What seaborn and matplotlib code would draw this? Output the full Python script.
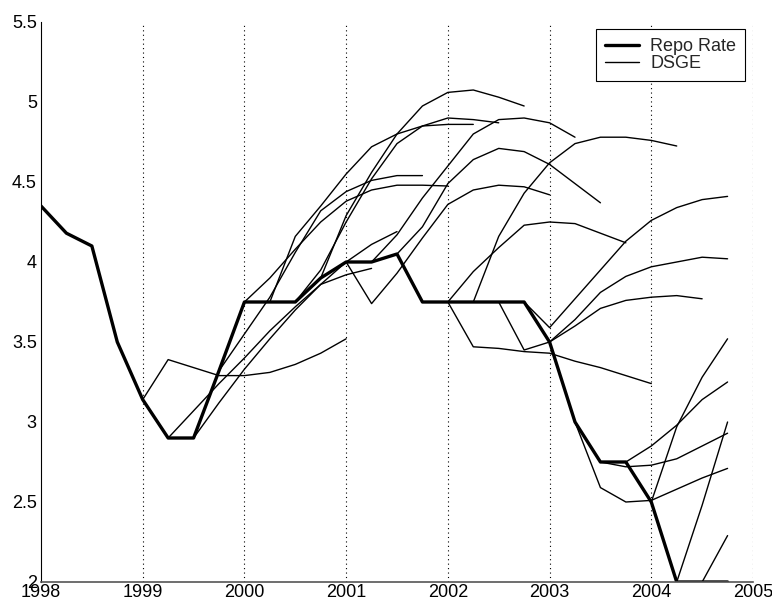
import numpy as np
import pandas as pd
import matplotlib
matplotlib.use("Agg")
import matplotlib.pyplot as plt
from matplotlib.lines import Line2D
import seaborn as sns

sns.set_style("white")
plt.rcParams["font.family"] = ["Liberation Sans", "DejaVu Sans"]

# Quarterly dates, 1998Q1 .. 2004Q4
quarters = np.arange(1998, 2005, 0.25)

# Repo rate (quarterly, percent)
repo_rate = [4.35, 4.18, 4.10, 3.50, 3.14, 2.90, 2.90, 3.32,
             3.75, 3.75, 3.75, 3.90, 4.00, 4.00, 4.05, 3.75,
             3.75, 3.75, 3.75, 3.75, 3.50, 3.00, 2.75, 2.75,
             2.50, 2.00, 2.00, 2.00]

# DSGE forecast paths, each starting at its forecast origin (quarterly steps)
dsge_1999q1 = [3.14, 3.39, 3.34, 3.29, 3.29, 3.31, 3.36, 3.43, 3.52]
dsge_1999q2 = [2.90, 3.07, 3.24, 3.40, 3.57, 3.72, 3.86, 3.92, 3.96]
dsge_1999q3 = [2.90, 3.12, 3.33, 3.52, 3.70, 3.86, 4.00, 4.11, 4.19]
dsge_1999q4 = [3.32, 3.55, 3.78, 4.06, 4.32, 4.44, 4.51, 4.54, 4.54]
dsge_2000q1 = [3.75, 3.90, 4.08, 4.25, 4.38, 4.45, 4.48, 4.48, 4.475]
dsge_2000q2 = [3.75, 4.16, 4.35, 4.55, 4.72, 4.80, 4.85, 4.86, 4.86]
dsge_2000q3 = [3.75, 3.95, 4.25, 4.52, 4.74, 4.85, 4.90, 4.89, 4.87]
dsge_2000q4 = [3.90, 4.29, 4.56, 4.80, 4.975, 5.06, 5.075, 5.03, 4.975]
dsge_2001q1 = [4.00, 3.74, 3.93, 4.15, 4.36, 4.45, 4.48, 4.47, 4.42]
dsge_2001q2 = [4.00, 4.17, 4.40, 4.60, 4.80, 4.89, 4.90, 4.87, 4.78]
dsge_2001q3 = [4.05, 4.22, 4.49, 4.64, 4.71, 4.69, 4.61, 4.49, 4.37]
dsge_2001q4 = [3.75, 3.75, 3.94, 4.09, 4.23, 4.25, 4.24, 4.18, 4.12]
dsge_2002q1 = [3.75, 3.47, 3.46, 3.44, 3.43, 3.38, 3.34, 3.29, 3.24]
dsge_2002q2 = [3.75, 4.16, 4.43, 4.62, 4.74, 4.78, 4.78, 4.76, 4.725]
dsge_2002q3 = [3.75, 3.45, 3.50, 3.60, 3.71, 3.76, 3.78, 3.79, 3.77]
dsge_2002q4 = [3.75, 3.59, 3.77, 3.95, 4.13, 4.26, 4.34, 4.39, 4.41]
dsge_2003q1 = [3.50, 3.64, 3.81, 3.91, 3.97, 4.00, 4.03, 4.02]
dsge_2003q2 = [3.00, 2.59, 2.50, 2.51, 2.58, 2.65, 2.71]
dsge_2003q3 = [2.75, 2.72, 2.73, 2.77, 2.85, 2.93]
dsge_2003q4 = [2.75, 2.85, 2.98, 3.14, 3.25]
dsge_2004q1 = [2.50, 2.97, 3.28, 3.52]
dsge_2004q2 = [2.00, 2.48, 3.00]
dsge_2004q3 = [2.00, 2.29]

forecasts = {
    1999.00: dsge_1999q1, 1999.25: dsge_1999q2, 1999.50: dsge_1999q3,
    1999.75: dsge_1999q4, 2000.00: dsge_2000q1, 2000.25: dsge_2000q2,
    2000.50: dsge_2000q3, 2000.75: dsge_2000q4, 2001.00: dsge_2001q1,
    2001.25: dsge_2001q2, 2001.50: dsge_2001q3, 2001.75: dsge_2001q4,
    2002.00: dsge_2002q1, 2002.25: dsge_2002q2, 2002.50: dsge_2002q3,
    2002.75: dsge_2002q4, 2003.00: dsge_2003q1, 2003.25: dsge_2003q2,
    2003.50: dsge_2003q3, 2003.75: dsge_2003q4, 2004.00: dsge_2004q1,
    2004.25: dsge_2004q2, 2004.50: dsge_2004q3,
}

rows = []
for origin, path in forecasts.items():
    for h, value in enumerate(path):
        rows.append({"vintage": origin, "date": origin + 0.25 * h, "rate": value})
fc = pd.DataFrame(rows)
repo = pd.DataFrame({"date": quarters, "rate": repo_rate})

fig = plt.figure(figsize=(7.72, 6.08), dpi=100)
ax = fig.add_axes([41 / 772, 26 / 608, 712 / 772, 560 / 608])

sns.lineplot(data=fc, x="date", y="rate", units="vintage", estimator=None,
             color="black", lw=1.0, ax=ax, legend=False)
sns.lineplot(data=repo, x="date", y="rate", color="black", lw=2.4, ax=ax,
             legend=False)

ax.set_xlim(1998, 2005)
ax.set_ylim(2, 5.5)
years = list(range(1998, 2006))
ax.set_xticks(years)
ax.set_xticklabels([str(y) for y in years])
yt = np.arange(2, 5.51, 0.5)
ax.set_yticks(yt)
ax.set_yticklabels([f"{v:g}" for v in yt])
ax.set_xlabel("")
ax.set_ylabel("")

# vertical dotted year grid
for y in years[1:]:
    ax.axvline(y, color="black", lw=0.8, ls=(0, (1, 3)), zorder=0)

for s in ("top", "right"):
    ax.spines[s].set_visible(False)
ax.spines["left"].set_color("black")
ax.spines["left"].set_linewidth(0.8)
ax.spines["bottom"].set_color("#555555")
ax.spines["bottom"].set_linewidth(1.2)
ax.tick_params(axis="both", direction="in", length=5, width=0.8,
               labelsize=13, colors="black")
ax.tick_params(axis="x", pad=1.5)
ax.tick_params(axis="y", pad=3)

handles = [Line2D([], [], color="black", lw=2.4),
           Line2D([], [], color="black", lw=1.0)]
leg = ax.legend(handles, ["Repo Rate", "DSGE"], loc="upper right",
                bbox_to_anchor=(0.989, 0.9875), borderaxespad=0,
                fontsize=13, frameon=True, fancybox=False,
                edgecolor="black", framealpha=1, handlelength=1.9,
                handletextpad=0.6, labelspacing=0.0, borderpad=0.5)
leg.get_frame().set_linewidth(0.8)

fig.savefig("out.png", dpi=100)
